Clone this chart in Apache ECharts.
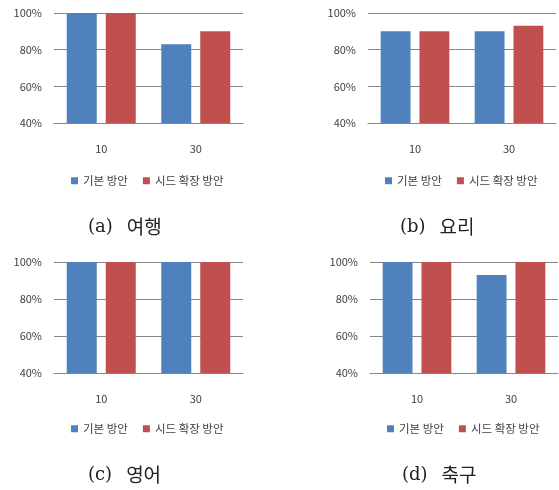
<!DOCTYPE html>
<html>
<head>
<meta charset="utf-8">
<script src="https://cdn.jsdelivr.net/npm/echarts@6/dist/echarts.min.js"></script>
<style>
  html, body { margin: 0; padding: 0; background: #fff; }
  #chart-container { width: 559px; height: 490px; }
</style>
</head>
<body>
<div id="chart-container"></div>
<script>
// data
var categories = ['10', '30'];
var seriesNames = ['기본 방안', '시드 확장 방안'];
var captionTags = ['(a)', '(b)', '(c)', '(d)'];
var captionNames = ['여행', '요리', '영어', '축구'];
var yTicks = [40, 60, 80, 100];

var travelBase = [100, 83];
var travelSeed = [100, 90];
var cookingBase = [90, 90];
var cookingSeed = [90, 93];
var englishBase = [100, 100];
var englishSeed = [100, 100];
var soccerBase = [100, 93];
var soccerSeed = [100, 100];

var panelData = [
  [travelBase, travelSeed],
  [cookingBase, cookingSeed],
  [englishBase, englishSeed],
  [soccerBase, soccerSeed]
];

// layout of the four panels (pixels)
var panels = [
  { left: 54, top: 13, width: 189, height: 110, legendTop: 170, capLeft: 88, capTop: 216 },
  { left: 368, top: 13, width: 188, height: 110, legendTop: 170, capLeft: 400, capTop: 216 },
  { left: 54, top: 262, width: 189, height: 111, legendTop: 418, capLeft: 88, capTop: 464 },
  { left: 370, top: 262, width: 188, height: 111, legendTop: 418, capLeft: 402, capTop: 464 }
];

var colors = ['#4F81BD', '#C0504D'];
var lineColor = '#868686';
var textColor = '#404040';
var sansFont = '"Noto Sans CJK KR", "Noto Sans", sans-serif';

var dom = document.getElementById('chart-container');
var myChart = echarts.init(dom, null, { renderer: 'canvas' });

var grids = [], xAxes = [], yAxes = [], series = [], legends = [], titles = [];

panels.forEach(function (p, i) {
  grids.push({ left: p.left, top: p.top, width: p.width, height: p.height, containLabel: false });
  xAxes.push({
    type: 'category',
    gridIndex: i,
    data: categories,
    axisTick: { show: false },
    axisLine: { lineStyle: { color: lineColor, width: 1 } },
    axisLabel: { margin: 20, fontSize: 11, color: textColor, fontFamily: sansFont }
  });
  yAxes.push({
    type: 'value',
    gridIndex: i,
    min: yTicks[0],
    max: yTicks[yTicks.length - 1],
    interval: yTicks[1] - yTicks[0],
    axisLine: { show: false },
    axisTick: { show: false },
    splitLine: { lineStyle: { color: lineColor, width: 1 } },
    axisLabel: { margin: 12, fontSize: 11, color: textColor, fontFamily: sansFont, formatter: '{value}%' }
  });
  seriesNames.forEach(function (name, k) {
    series.push({
      name: name,
      type: 'bar',
      xAxisIndex: i,
      yAxisIndex: i,
      data: panelData[i][k],
      barGap: '30%',
      barCategoryGap: '27%',
      itemStyle: { color: colors[k] },
      emphasis: { disabled: true }
    });
  });
  legends.push({
    data: seriesNames,
    left: p.left + 12,
    top: p.legendTop,
    icon: 'rect',
    itemWidth: 7,
    itemHeight: 7,
    itemGap: 15,
    selectedMode: false,
    textStyle: { fontSize: 11.5, color: textColor, fontFamily: sansFont }
  });
  titles.push({
    text: '{p|' + captionTags[i] + '}{h|' + captionNames[i] + '}',
    left: p.capLeft,
    top: p.capTop,
    padding: 0,
    textStyle: {
      fontWeight: 'normal',
      rich: {
        p: { fontSize: 18, fontWeight: 'normal', color: '#222', fontFamily: '"DejaVu Serif", serif', lineHeight: 22 },
        h: { fontSize: 19, fontWeight: 'normal', color: '#222', fontFamily: '"Noto Sans CJK KR", sans-serif', padding: [0, 0, 0, 14], lineHeight: 22 }
      }
    }
  });
});

var option = {
  animation: false,
  color: colors,
  title: titles,
  legend: legends,
  grid: grids,
  xAxis: xAxes,
  yAxis: yAxes,
  series: series
};

myChart.setOption(option);
window.addEventListener('resize', myChart.resize);
</script>
</body>
</html>
